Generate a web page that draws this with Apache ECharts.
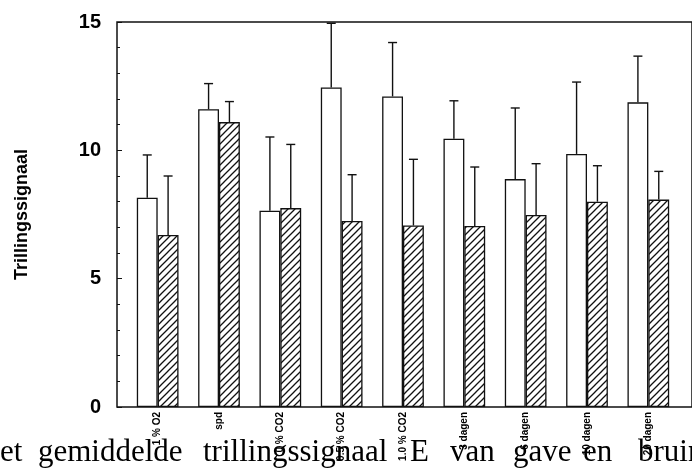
<!DOCTYPE html>
<html>
<head>
<meta charset="utf-8">
<script src="https://cdn.jsdelivr.net/npm/echarts@6/dist/echarts.min.js"></script>
<style>
html,body{margin:0;padding:0;background:#fff;}
#c{width:692px;height:472px;}
</style>
</head>
<body>
<div id="c"></div>
<script>
// ---- data ----
const categories = ['1 % O2', 'spd', '0 % CO2', '0.5 % CO2', '1.0 % CO2', '3 dagen', '6 dagen', '10 dagen', '20 dagen'];
const gaveMean  = [8.15, 11.6, 7.65, 12.45, 12.1, 10.45, 8.88, 9.86, 11.87];
const gaveSd    = [1.67, 1.0, 2.87, 2.5, 2.1, 1.48, 2.77, 2.8, 1.8];
const bruinMean = [6.7, 11.1, 7.75, 7.25, 7.07, 7.05, 7.48, 8.0, 8.08];
const bruinSd   = [2.3, 0.8, 2.48, 1.8, 2.58, 2.3, 2.0, 1.4, 1.1];
const yMin = 0, yMax = 15, yInterval = 5;
const yName = 'Trillingssignaal';
const captionWords = ['et', 'gemiddelde', 'trillingssignaal', 'E', 'van', 'gave', 'en', 'bruin'];

// ---- layout (not data) ----
const captionX = [0, 38, 203, 410, 450, 513, 583, 638];

function hatch() {
  const s = 7;
  const cv = document.createElement('canvas');
  cv.width = s; cv.height = s;
  const ctx = cv.getContext('2d');
  ctx.fillStyle = '#fff';
  ctx.fillRect(0, 0, s, s);
  ctx.strokeStyle = '#111';
  ctx.lineWidth = 1.3;
  ctx.beginPath();
  ctx.moveTo(-1, s + 1); ctx.lineTo(s + 1, -1);
  ctx.moveTo(-1, 1); ctx.lineTo(1, -1);
  ctx.moveTo(s - 1, s + 1); ctx.lineTo(s + 1, s - 1);
  ctx.stroke();
  return cv;
}

function errSeries(means, sds, sign) {
  return {
    type: 'custom',
    xAxisIndex: 0, yAxisIndex: 0,
    z: 1,
    silent: true,
    data: means.map((m, i) => [i, m, sds[i]]),
    renderItem: function (params, api) {
      const i = api.value(0), m = api.value(1), sd = api.value(2);
      const band = api.size([1, 0])[0];
      const off = sign * band * 0.17;
      const p0 = api.coord([i, m]);
      const p1 = api.coord([i, m + sd]);
      const x = p0[0] + off;
      const cap = 4.5;
      const st = { stroke: '#111', lineWidth: 1.4 };
      return {
        type: 'group',
        children: [
          { type: 'line', shape: { x1: x, y1: p0[1], x2: x, y2: p1[1] }, style: st },
          { type: 'line', shape: { x1: x - cap, y1: p1[1], x2: x + cap, y2: p1[1] }, style: st }
        ]
      };
    }
  };
}

const chart = echarts.init(document.getElementById('c'), null, { renderer: 'canvas' });

const graphics = captionWords.map((w, k) => ({
  type: 'text',
  left: captionX[k],
  top: 437,
  style: { text: w, font: '31px "Liberation Serif", "Times New Roman", serif', fill: '#000' },
  z: 100
}));

chart.setOption({
  animation: false,
  backgroundColor: '#fff',
  grid: [
    { left: 127, right: 13, top: 22, bottom: 65, show: false },
    { left: 117, right: -5, top: 22, bottom: 65, show: true, borderColor: '#111', borderWidth: 1.5, backgroundColor: 'transparent', z: 0 }
  ],
  xAxis: [
    {
      type: 'category', gridIndex: 0, data: categories,
      axisLine: { show: false }, axisTick: { show: false },
      axisLabel: {
        rotate: 90, margin: 5, interval: 0,
        color: '#000', fontWeight: 'bold', fontSize: 10,
        fontFamily: '"Liberation Sans", Arial, sans-serif'
      }
    },
    { type: 'value', gridIndex: 1, show: false }
  ],
  yAxis: [
    {
      type: 'value', gridIndex: 0, min: yMin, max: yMax, interval: yInterval,
      offset: 10,
      name: yName, nameLocation: 'middle', nameGap: 86, nameRotate: 90,
      nameTextStyle: { color: '#000', fontWeight: 'bold', fontSize: 18, fontFamily: '"Liberation Sans", Arial, sans-serif' },
      axisLine: { show: false },
      axisTick: { show: true, inside: true, length: 5, lineStyle: { color: '#111', width: 1 } },
      minorTick: { show: true, splitNumber: 5, length: 3, lineStyle: { color: '#111', width: 1 } },
      splitLine: { show: false },
      axisLabel: { color: '#000', fontWeight: 'bold', fontSize: 20, margin: 16, fontFamily: '"Liberation Sans", Arial, sans-serif' }
    },
    { type: 'value', gridIndex: 1, show: false }
  ],
  series: [
    {
      type: 'bar', name: 'gave', xAxisIndex: 0, yAxisIndex: 0,
      data: gaveMean, barWidth: '34%', barGap: '0%', z: 2,
      itemStyle: { color: '#fff', borderColor: '#111', borderWidth: 1.3 }
    },
    {
      type: 'bar', name: 'bruin', xAxisIndex: 0, yAxisIndex: 0,
      data: bruinMean, barWidth: '34%', barGap: '0%', z: 2,
      itemStyle: { color: { image: hatch(), repeat: 'repeat' }, borderColor: '#111', borderWidth: 1.3 }
    },
    errSeries(gaveMean, gaveSd, -1),
    errSeries(bruinMean, bruinSd, 1)
  ],
  graphic: graphics
});
</script>
</body>
</html>
